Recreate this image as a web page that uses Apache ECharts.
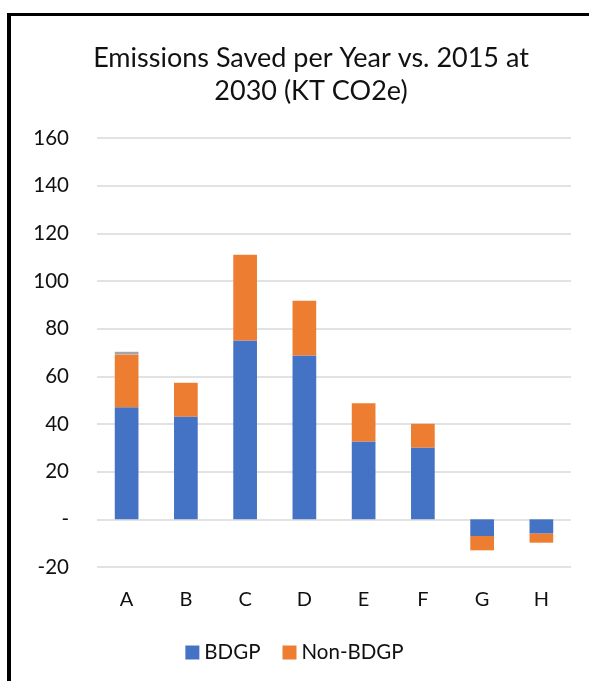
<!DOCTYPE html>
<html>
<head>
<meta charset="utf-8">
<script src="https://cdn.jsdelivr.net/npm/echarts@6/dist/echarts.min.js"></script>
<style>
  html, body { margin: 0; padding: 0; background: #fff; }
  #frame {
    position: absolute; left: 7px; top: 13px; width: 700px; height: 800px;
    border-left: 4px solid #000; border-top: 3px solid #000; box-sizing: border-box;
  }
  #chart { position: absolute; left: 0; top: 0; width: 589px; height: 681px; }
</style>
</head>
<body>
<div id="frame"></div>
<div id="chart"></div>
<script>
// Emissions saved per year vs. 2015 at 2030, by region (KT CO2e)
const categories = ['A', 'B', 'C', 'D', 'E', 'F', 'G', 'H'];
const bdgp = [47, 43.1, 75, 68.7, 32.7, 30.1, -7, -6];
const nonBdgp = [22.2, 14.2, 36, 23, 16, 10, -6, -3.8];
const other = [1.1, 0, 0, 0, 0, 0, 0, 0];
const yTicks = { min: -20, max: 160, interval: 20 };

const font = 'Lato, "Open Sans", sans-serif';
const chart = echarts.init(document.getElementById('chart'));
chart.setOption({
  animation: false,
  backgroundColor: 'transparent',
  title: {
    text: 'Emissions Saved per Year vs. 2015 at\n2030 (KT CO2e)',
    left: 306, top: 37, textAlign: 'center',
    textStyle: { fontFamily: font, fontSize: 27, fontWeight: 'normal', color: '#111', lineHeight: 33 }
  },
  legend: {
    data: ['BDGP', 'Non-BDGP'],
    bottom: 13, left: 'center',
    itemWidth: 14, itemHeight: 14, itemGap: 22, icon: 'rect',
    textStyle: { fontFamily: font, fontSize: 20.5, color: '#111' }
  },
  grid: { left: 97, right: 18, top: 138, bottom: 114 },
  xAxis: {
    type: 'category', data: categories,
    axisLine: { show: false }, axisTick: { show: false },
    axisLabel: { fontFamily: font, fontSize: 20, color: '#111', margin: 23 }
  },
  yAxis: {
    type: 'value', min: yTicks.min, max: yTicks.max, interval: yTicks.interval,
    axisLine: { show: false }, axisTick: { show: false },
    axisLabel: {
      fontFamily: font, fontSize: 20.5, color: '#111', margin: 28,
      formatter: v => (v === 0 ? '-' : String(v))
    },
    splitLine: { lineStyle: { color: '#d9d9d9', width: 1.5 } }
  },
  series: [
    { name: 'BDGP', type: 'bar', stack: 'total', data: bdgp, barWidth: '40%',
      itemStyle: { color: '#4472c4' } },
    { name: 'Non-BDGP', type: 'bar', stack: 'total', data: nonBdgp, barWidth: '40%',
      itemStyle: { color: '#ed7d31' } },
    { name: 'Other', type: 'bar', stack: 'total', data: other, barWidth: '40%',
      itemStyle: { color: '#a5a5a5' } }
  ]
});
</script>
</body>
</html>
